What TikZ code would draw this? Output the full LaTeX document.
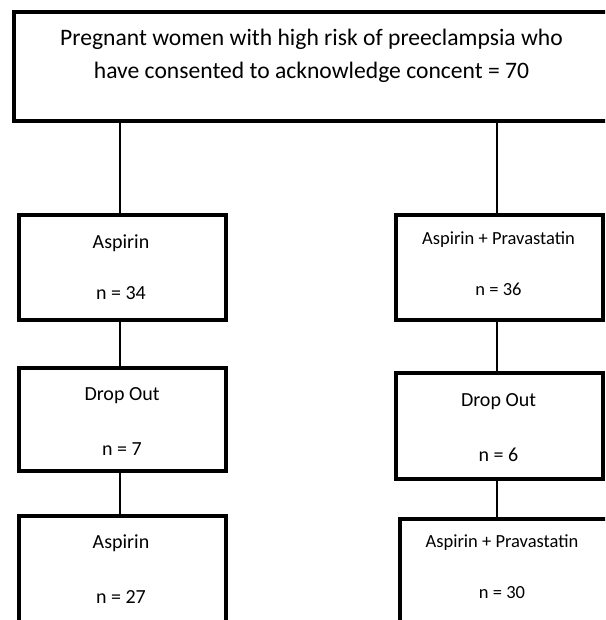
\documentclass[tikz,border=0pt]{standalone}
\usepackage{fontspec}
\setmainfont{Carlito}
\begin{document}
\begin{tikzpicture}[x=1pt,y=-1pt,
  box/.style={draw, line width=4pt, rectangle, inner sep=0pt},
  link/.style={draw, line width=2pt},
  lbl/.style={anchor=base, inner sep=0pt, font=\fontsize{20}{24}\selectfont},
  lbls/.style={anchor=base, inner sep=0pt, font=\fontsize{18.5}{22}\selectfont},
  lblt/.style={anchor=base, inner sep=0pt, font=\fontsize{23.6}{28}\selectfont}]
\useasboundingbox (0,0) rectangle (605,620);
\clip (0,0) rectangle (605,620);
\fill[white] (0,0) rectangle (605,620);
% boxes
\node[box, minimum width=596pt, minimum height=109pt] (top) at (312,66.5) {};
\node[box, minimum width=207pt, minimum height=104.5pt] (l1) at (122.5,267.25) {};
\node[box, minimum width=207pt, minimum height=103pt] (l2) at (122.5,419.5) {};
\node[box, minimum width=207pt, minimum height=110pt] (l3) at (122.5,571) {};
\node[box, minimum width=207pt, minimum height=104.5pt] (r1) at (499.5,267.25) {};
\node[box, minimum width=207pt, minimum height=105.5pt] (r2) at (499.5,425.75) {};
\node[box, minimum width=210pt, minimum height=110pt] (r3) at (505,573.5) {};
% texts
\node[lblt] (t1) at (311.5,46) {Pregnant women with high risk of preeclampsia who};
\node[lblt] (t2) at (311.5,79) {have consented to acknowledge concent = 70};
\node[lbl] (l1a) at (121,248) {Aspirin};
\node[lbl] (l1b) at (121,299) {n = 34};
\node[lbl] (l2a) at (122,400) {Drop Out};
\node[lbl] (l2b) at (122,455) {n = 7};
\node[lbl] (l3a) at (121,548) {Aspirin};
\node[lbl] (l3b) at (121,603) {n = 27};
\node[lbls] (r1a) at (498.5,244) {Aspirin + Pravastatin};
\node[lbls] (r1b) at (498.5,295) {n = 36};
\node[lbl] (r2a) at (498.5,406) {Drop Out};
\node[lbl] (r2b) at (498.5,461) {n = 6};
\node[lbls] (r3a) at (502,547) {Aspirin + Pravastatin};
\node[lbls] (r3b) at (502,598) {n = 30};
% connectors
\draw[link] ([xshift=-2.5pt]l1.north) -- ([xshift=-2.5pt]l1.north |- top.south);
\draw[link] ([xshift=-2.5pt]r1.north) -- ([xshift=-2.5pt]r1.north |- top.south);
\draw[link] ([xshift=-2.5pt]l1.south) -- ([xshift=-2.5pt]l1.south |- l2.north);
\draw[link] ([xshift=-2.5pt]r1.south) -- ([xshift=-2.5pt]r1.south |- r2.north);
\draw[link] ([xshift=-2.5pt]l2.south) -- ([xshift=-2.5pt]l2.south |- l3.north);
\draw[link] ([xshift=-2.5pt]r2.south) -- ([xshift=-2.5pt]r2.south |- r3.north);
\end{tikzpicture}
\end{document}
